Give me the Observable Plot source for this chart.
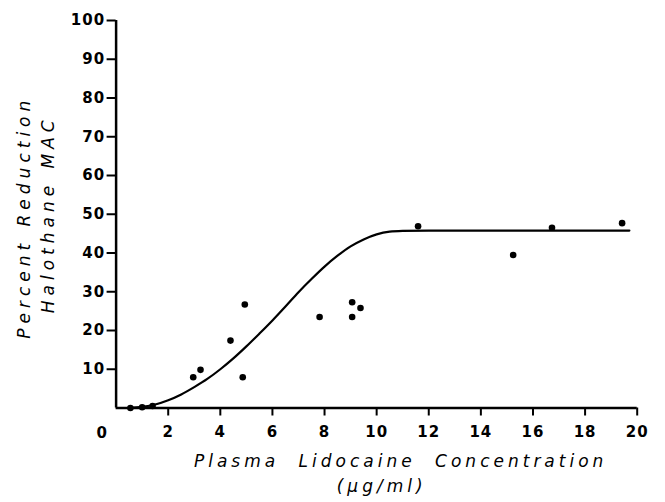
<!DOCTYPE html>
<html>
<head>
<meta charset="utf-8">
<script src="https://cdn.jsdelivr.net/npm/d3@7"></script>
<script src="https://cdn.jsdelivr.net/npm/@observablehq/plot@0.6"></script>
<style>
  html, body { margin: 0; padding: 0; background: #fff; }
  .ticklab text { font-family: "DejaVu Sans", sans-serif; font-weight: bold; letter-spacing: 1px; }
  .axtitle text { font-family: "DejaVu Sans", sans-serif; font-style: italic; letter-spacing: 4px; word-spacing: 10px; }
  .ytitle text { font-family: "DejaVu Sans", sans-serif; font-style: italic; letter-spacing: 5px; word-spacing: 2px; }
</style>
</head>
<body>
<div id="chart"></div>
<script>
// Observed data points
const pointX = [0.55, 1.0, 1.4, 2.96, 3.24, 4.39, 4.86, 4.94, 7.81, 9.06, 9.06, 9.38, 11.59, 15.24, 16.73, 19.42];
const pointY = [0, 0.2, 0.5, 7.95, 9.85, 17.4, 7.95, 26.7, 23.5, 27.3, 23.5, 25.8, 46.9, 39.5, 46.5, 47.7];

// Fitted curve
const curveX = [0.5, 1.0, 1.5, 2.0, 2.5, 3.0, 3.5, 4.0, 4.5, 5.0, 5.5, 6.0, 6.5, 7.0, 7.5, 8.0, 8.5, 9.0, 9.5, 10.0, 10.5, 11.0, 12.0, 19.7];
const curveY = [0, 0.3, 0.9, 2.0, 3.5, 5.4, 7.5, 10.0, 12.8, 15.9, 19.2, 22.6, 26.2, 29.9, 33.3, 36.5, 39.3, 41.7, 43.5, 44.8, 45.5, 45.7, 45.8, 45.8];

// Tick labels
const xTicks = [2, 4, 6, 8, 10, 12, 14, 16, 18, 20];
const yTicks = [10, 20, 30, 40, 50, 60, 70, 80, 90, 100];
const originLabel = ["0"];
const xTitle = ["Plasma Lidocaine Concentration", "(μg/ml)"];
const yTitle = ["Percent Reduction", "Halothane MAC"];

const points = pointX.map((x, i) => ({x, y: pointY[i]}));
const curve = curveX.map((x, i) => ({x, y: curveY[i]}));

const chart = Plot.plot({
  width: 665,
  height: 502,
  marginLeft: 115.6,
  marginRight: 28.3,
  marginTop: 20,
  marginBottom: 94.5,
  style: { background: "#fff", color: "#000" },
  x: { domain: [0, 20] },
  y: { domain: [0, 100] },
  marks: [
    Plot.axisX({ticks: xTicks, tickSize: 8, tickPadding: 10, strokeWidth: 2, fontSize: 15, label: null, className: "ticklab"}),
    Plot.axisY({ticks: yTicks, tickSize: 9, tickPadding: 2, strokeWidth: 2, fontSize: 15, label: null, className: "ticklab"}),
    Plot.text(originLabel, {x: 0, y: 0, dx: -14, dy: 25, fontSize: 15, className: "ticklab"}),
    Plot.ruleX([0], {y1: 0, y2: 100, strokeWidth: 2.5}),
    Plot.ruleY([0], {x1: 0, x2: 20, strokeWidth: 2.5}),
    Plot.line(curve, {x: "x", y: "y", curve: "monotone-x", strokeWidth: 2.2, stroke: "#000"}),
    Plot.dot(points, {x: "x", y: "y", r: 3.3, fill: "#000", stroke: "none"}),
    Plot.text([xTitle[0]], {frameAnchor: "bottom", textAnchor: "middle", dx: 24, dy: 59, fontSize: 17, className: "axtitle"}),
    Plot.text([xTitle[1]], {frameAnchor: "bottom", textAnchor: "middle", dx: 5, dy: 84, fontSize: 17, className: "axtitle"}),
    Plot.text([yTitle[0]], {frameAnchor: "left", textAnchor: "middle", rotate: -90, dx: -92, dy: 3, fontSize: 17, className: "ytitle"}),
    Plot.text([yTitle[1]], {frameAnchor: "left", textAnchor: "middle", rotate: -90, dx: -68, dy: 0, fontSize: 17, className: "ytitle"})
  ]
});
document.getElementById("chart").appendChild(chart);
</script>
</body>
</html>
